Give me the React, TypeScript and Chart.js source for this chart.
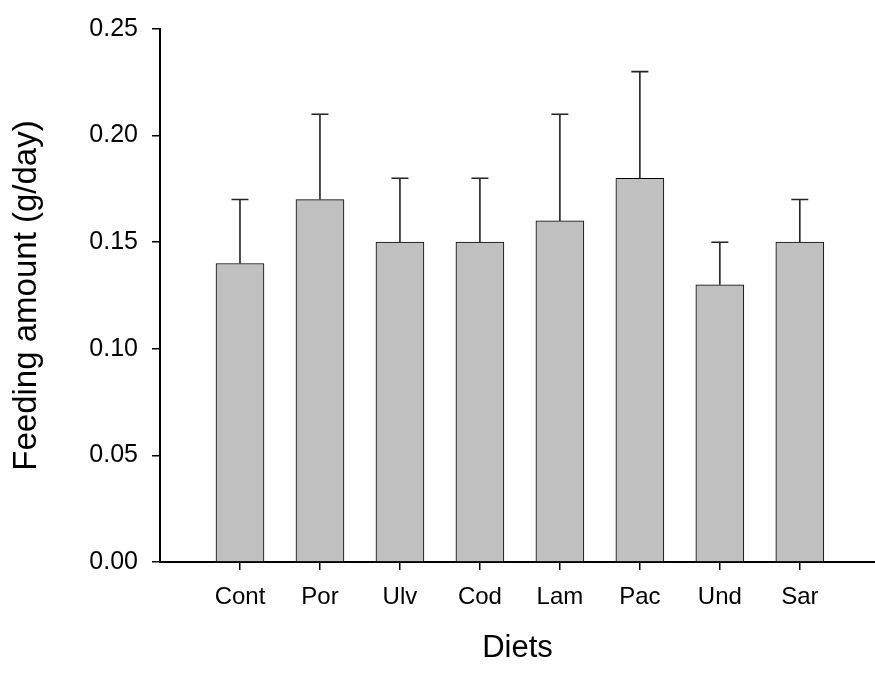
import React, { useEffect, useRef } from "react";
import { Chart, registerables } from "chart.js";

Chart.register(...registerables);

const categories = ["Cont", "Por", "Ulv", "Cod", "Lam", "Pac", "Und", "Sar"];
const means = [0.14, 0.17, 0.15, 0.15, 0.16, 0.18, 0.13, 0.15];
const upperErr = [0.17, 0.21, 0.18, 0.18, 0.21, 0.23, 0.15, 0.17];
const yTicks = [0, 0.05, 0.1, 0.15, 0.2, 0.25];

const FONT = "'Liberation Sans', Arial, Helvetica, sans-serif";

const errorBarPlugin = {
  id: "errorBars",
  afterDatasetsDraw(chart: any) {
    const meta = chart.getDatasetMeta(0);
    const yScale = chart.scales.y;
    const ctx = chart.ctx;
    ctx.save();
    ctx.strokeStyle = "#222";
    ctx.lineWidth = 1.6;
    meta.data.forEach((bar: any, i: number) => {
      const x = bar.x;
      const yTop = bar.y;
      const yErr = yScale.getPixelForValue(upperErr[i]);
      ctx.beginPath();
      ctx.moveTo(x, yTop);
      ctx.lineTo(x, yErr);
      ctx.moveTo(x - 8.5, yErr);
      ctx.lineTo(x + 8.5, yErr);
      ctx.stroke();
    });
    ctx.restore();
  },
};

export default function App() {
  const ref = useRef<HTMLCanvasElement | null>(null);

  useEffect(() => {
    if (!ref.current) return;
    const chart = new Chart(ref.current, {
      type: "bar",
      data: {
        datasets: [
          {
            data: means.map((v, i) => ({ x: i + 1, y: v })),
            backgroundColor: "#c0c0c0",
            borderColor: "#000",
            borderWidth: 1,
            barThickness: 48,
          } as any,
        ],
      },
      options: {
        animation: false,
        responsive: true,
        maintainAspectRatio: false,
        layout: { padding: { top: 21, right: 0, left: 0, bottom: 0 } },
        plugins: {
          legend: { display: false },
          tooltip: { enabled: false },
        },
        scales: {
          x: {
            type: "linear",
            offset: false,
            min: 0,
            max: 8.94,
            afterBuildTicks: (scale: any) => {
              scale.ticks = categories.map((_, i) => ({ value: i + 1 }));
            },
            afterFit: (scale: any) => {
              scale.height = 113;
            },
            grid: {
              offset: false,
              drawOnChartArea: false,
              drawTicks: true,
              tickLength: 8,
              color: "#000",
              lineWidth: 1.5,
            },
            border: { display: true, color: "#000", width: 2 },
            ticks: {
              autoSkip: false,
              maxRotation: 0,
              padding: 13,
              color: "#000",
              font: { family: FONT, size: 24 },
              callback: (v: any) => categories[Math.round(Number(v)) - 1] ?? "",
            },
            title: {
              display: true,
              text: "Diets",
              color: "#000",
              font: { family: FONT, size: 31 },
              padding: { top: 0, bottom: 8 },
            },
          },
          y: {
            type: "linear",
            min: 0,
            max: 0.25,
            afterBuildTicks: (scale: any) => {
              scale.ticks = yTicks.map((v) => ({ value: v }));
            },
            afterFit: (scale: any) => {
              scale.width = 160;
            },
            grid: {
              drawOnChartArea: false,
              drawTicks: true,
              tickLength: 8,
              color: "#000",
              lineWidth: 1.5,
            },
            border: { display: true, color: "#000", width: 2 },
            ticks: {
              padding: 14,
              color: "#000",
              font: { family: FONT, size: 25 },
              callback: (v: any) => Number(v).toFixed(2),
            },
            title: {
              display: true,
              text: "Feeding amount (g/day)",
              color: "#000",
              font: { family: FONT, size: 33 },
              padding: { top: 7, bottom: 0 },
            },
          },
        },
      },
      plugins: [errorBarPlugin],
    });
    return () => chart.destroy();
  }, []);

  return (
    <div style={{ position: "absolute", left: 0, top: 0, width: 875, height: 675 }}>
      <canvas ref={ref} />
    </div>
  );
}
